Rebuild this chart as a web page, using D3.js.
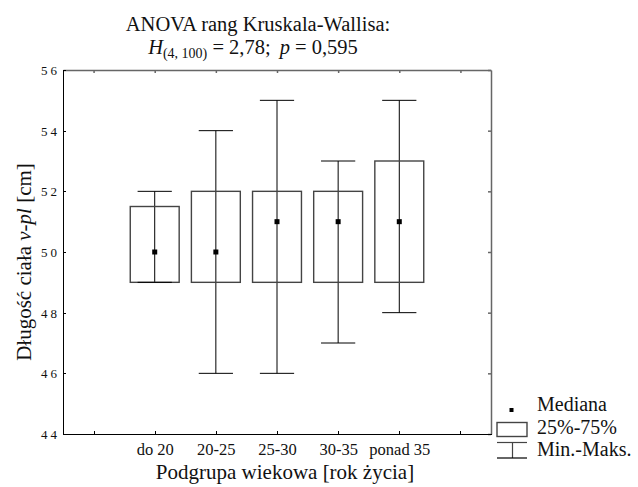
<!DOCTYPE html>
<html>
<head>
<meta charset="utf-8">
<script src="https://cdn.jsdelivr.net/npm/d3@7"></script>
<style>
  html, body { margin: 0; padding: 0; background: #fff; }
  svg { display: block; }
  svg text { font-family: "Liberation Serif", "Times New Roman", serif; }
</style>
</head>
<body>
<svg id="chart" width="638" height="487"></svg>
<script>
// Age subgroups and body length statistics (cm)
const categories = ["do 20", "20-25", "25-30", "30-35", "ponad 35"];
const minVals    = [49, 46, 46, 47, 48];
const q1Vals     = [49, 49, 49, 49, 49];
const medianVals = [50, 50, 51, 51, 51];
const q3Vals     = [51.5, 52, 52, 52, 53];
const maxVals    = [52, 54, 55, 53, 55];
const yTicks     = [44, 46, 48, 50, 52, 54, 56];

const serif = "Liberation Serif";
const svg = d3.select("#chart");
const plot = { left: 63, right: 491, top: 70, bottom: 434 };

// category index -> horizontal position; one empty slot on each side
const x = d3.scaleLinear().domain([-1.5, categories.length + 0.5]).range([plot.left, plot.right]);
const y = d3.scaleLinear().domain([44, 56]).range([plot.bottom, plot.top]);
const slot = x(1) - x(0);
const boxW = slot * 0.8;
const capW = slot * 0.56;
const xTickVals = d3.range(-1, categories.length + 1);

// frame: top and right edges with inward ticks
svg.append("g")
  .attr("transform", `translate(0,${plot.top})`)
  .call(d3.axisTop(x).tickValues(xTickVals).tickSize(-3).tickSizeOuter(0).tickFormat(""))
  .call(g => g.selectAll("path,line").attr("stroke", "#666").attr("stroke-width", 1.5));
svg.append("g")
  .attr("transform", `translate(${plot.right},0)`)
  .call(d3.axisRight(y).tickValues(yTicks).tickSize(-3).tickSizeOuter(0).tickFormat(""))
  .call(g => g.selectAll("path,line").attr("stroke", "#666").attr("stroke-width", 1.5));

// bottom axis
const xAxis = svg.append("g")
  .attr("transform", `translate(0,${plot.bottom})`)
  .call(d3.axisBottom(x).tickValues(xTickVals).tickSize(-3).tickSizeOuter(0)
    .tickFormat(i => categories[i] || ""))
  .attr("font-family", serif).attr("font-size", 16.5);
xAxis.selectAll("path,line").attr("stroke", "#000").attr("shape-rendering", "crispEdges");
xAxis.selectAll("text")
  .attr("y", 21).attr("dy", 0)
  .attr("fill", "#111");

// left axis
const yAxis = svg.append("g")
  .attr("transform", `translate(${plot.left},0)`)
  .call(d3.axisRight(y).tickValues(yTicks).tickSize(3).tickSizeOuter(0))
  .attr("font-family", serif).attr("font-size", 13);
yAxis.selectAll("path,line").attr("stroke", "#000").attr("shape-rendering", "crispEdges");
yAxis.selectAll("text")
  .attr("x", -3).attr("dy", "0.35em")
  .attr("text-anchor", "end")
  .attr("letter-spacing", 3)
  .attr("fill", "#111");

// boxes and whiskers
const idx = d3.range(categories.length);
const boxes = svg.append("g");
boxes.selectAll("line.whisker").data(idx).join("line")
  .attr("class", "whisker")
  .attr("x1", i => x(i)).attr("x2", i => x(i))
  .attr("y1", i => y(maxVals[i])).attr("y2", i => y(minVals[i]))
  .attr("stroke", "#000").attr("stroke-width", 1);
boxes.selectAll("rect.iqr").data(idx).join("rect")
  .attr("class", "iqr")
  .attr("x", i => x(i) - boxW / 2).attr("width", boxW)
  .attr("y", i => y(q3Vals[i])).attr("height", i => y(q1Vals[i]) - y(q3Vals[i]))
  .attr("fill", "none").attr("stroke", "#444").attr("stroke-width", 1.4);
boxes.selectAll("line.capTop").data(idx).join("line")
  .attr("class", "capTop")
  .attr("x1", i => x(i) - capW / 2).attr("x2", i => x(i) + capW / 2)
  .attr("y1", i => y(maxVals[i])).attr("y2", i => y(maxVals[i]))
  .attr("stroke", "#000").attr("stroke-width", 1);
boxes.selectAll("line.capBottom").data(idx).join("line")
  .attr("class", "capBottom")
  .attr("x1", i => x(i) - capW / 2).attr("x2", i => x(i) + capW / 2)
  .attr("y1", i => y(minVals[i])).attr("y2", i => y(minVals[i]))
  .attr("stroke", "#000").attr("stroke-width", 1);
boxes.selectAll("rect.median").data(idx).join("rect")
  .attr("class", "median")
  .attr("x", i => x(i) - 2.5).attr("y", i => y(medianVals[i]) - 2.5)
  .attr("width", 5).attr("height", 5).attr("fill", "#000");

// title
const title = svg.append("g").attr("fill", "#111").attr("font-size", 20.5);
title.append("text").attr("x", 258).attr("y", 31).attr("text-anchor", "middle")
  .text("ANOVA rang Kruskala-Wallisa:");
const t2 = title.append("text").attr("x", 253).attr("y", 54).attr("text-anchor", "middle");
t2.append("tspan").attr("font-style", "italic").text("H");
t2.append("tspan").attr("font-size", 14).attr("dy", 4).text("(4, 100)");
t2.append("tspan").attr("dy", -4).text(" = 2,78;");
t2.append("tspan").attr("dx", 9).attr("font-style", "italic").text("p");
t2.append("tspan").text(" = 0,595");

// axis titles
svg.append("text")
  .attr("x", 285).attr("y", 479).attr("text-anchor", "middle")
  .attr("font-size", 21).attr("fill", "#111")
  .text("Podgrupa wiekowa [rok życia]");
const yt = svg.append("text")
  .attr("transform", "translate(31,262) rotate(-90)")
  .attr("text-anchor", "middle").attr("font-size", 21).attr("fill", "#111");
yt.append("tspan").text("Długość ciała ");
yt.append("tspan").attr("font-style", "italic").text("v-pl");
yt.append("tspan").text(" [cm]");

// legend
const lg = svg.append("g").attr("font-size", 20).attr("fill", "#111");
lg.append("rect").attr("x", 509.5).attr("y", 408).attr("width", 4).attr("height", 4).attr("fill", "#000");
lg.append("text").attr("x", 537).attr("y", 411).text("Mediana");
lg.append("rect").attr("x", 497).attr("y", 422.5).attr("width", 30).attr("height", 14)
  .attr("fill", "none").attr("stroke", "#444").attr("stroke-width", 1.4);
lg.append("text").attr("x", 537).attr("y", 433.5).text("25%-75%");
lg.append("line").attr("x1", 497).attr("x2", 527).attr("y1", 442.5).attr("y2", 442.5)
  .attr("stroke", "#444").attr("stroke-width", 1.2);
lg.append("line").attr("x1", 512.5).attr("x2", 512.5).attr("y1", 442.5).attr("y2", 458)
  .attr("stroke", "#444").attr("stroke-width", 1.2);
lg.append("line").attr("x1", 497).attr("x2", 527).attr("y1", 458).attr("y2", 458)
  .attr("stroke", "#000").attr("stroke-width", 1.2);
lg.append("text").attr("x", 537).attr("y", 456).text("Min.-Maks.");
</script>
</body>
</html>
